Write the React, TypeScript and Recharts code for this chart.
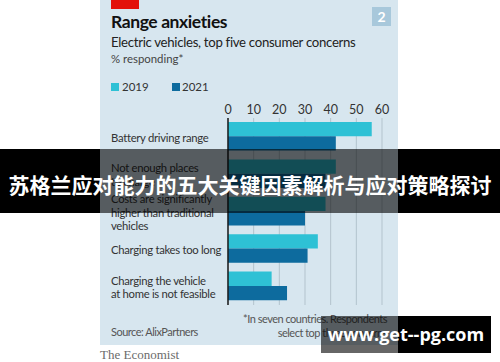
import React from 'react';
import { Bar, BarChart, CartesianGrid, XAxis, YAxis } from 'recharts';

const categories = [
  'Battery driving range',
  'Not enough places\nto charge',
  'Costs are significantly\nhigher than traditional\nvehicles',
  'Charging takes too long',
  'Charging the vehicle\nat home is not feasible',
];
const values2019 = [56, 42, 38, 35, 17];
const values2021 = [42, 38, 30, 31, 23];
const xTicks = [0, 10, 20, 30, 40, 50, 60];

const C2019 = '#2ec1d5';
const C2021 = '#0d6b9e';
const PANEL = '#d7e6ef';
const FONT = 'Lato, sans-serif';

const data = categories.map((c, i) => ({ name: c, y2019: values2019[i], y2021: values2021[i] }));

function CatTick(props: any) {
  const { y, payload } = props;
  const lines = String(payload.value).split('\n');
  const lh = 13.5;
  const start = y - ((lines.length - 1) * lh) / 2;
  return (
    <text x={111} y={start} fill="#333" fontSize={11.3} letterSpacing={-0.3} fontFamily={FONT} textAnchor="start" dominantBaseline="central">
      {lines.map((l, i) => (
        <tspan key={i} x={111} y={start + i * lh}>
          {l}
        </tspan>
      ))}
    </text>
  );
}

const abs = (l: number, t: number, w: number, h: number, extra: React.CSSProperties = {}): React.CSSProperties => ({
  position: 'absolute',
  left: l,
  top: t,
  width: w,
  height: h,
  ...extra,
});

export default function App() {
  return (
    <div style={{ position: 'absolute', left: 0, top: 0, width: 500, height: 362, background: '#fff', overflow: 'hidden', fontFamily: FONT }}>
      <div style={abs(100, 0, 298, 345, { background: PANEL })} />
      <div style={abs(111, 0, 28, 9, { background: '#e3120b' })} />
      <div style={abs(372, 7, 19, 19, { background: '#a8c8db', color: '#fff', fontWeight: 700, fontSize: 14, textAlign: 'center', lineHeight: '19px' })}>2</div>
      <div style={{ position: 'absolute', left: 111, top: 11, fontSize: 17.5, letterSpacing: -0.4, fontWeight: 700, color: '#111', whiteSpace: 'nowrap' }}>Range anxieties</div>
      <div style={{ position: 'absolute', left: 111, top: 34, fontSize: 13.2, letterSpacing: -0.3, color: '#222', whiteSpace: 'nowrap' }}>Electric vehicles, top five consumer concerns</div>
      <div style={{ position: 'absolute', left: 111, top: 52, fontSize: 11.4, color: '#444', whiteSpace: 'nowrap' }}>% responding*</div>
      <div style={abs(111, 83, 8, 8, { background: C2019 })} />
      <div style={{ position: 'absolute', left: 122, top: 80, fontSize: 11.5, color: '#333' }}>2019</div>
      <div style={abs(172, 83, 8, 8, { background: C2021 })} />
      <div style={{ position: 'absolute', left: 182, top: 80, fontSize: 11.5, color: '#333' }}>2021</div>

      <div style={{ position: 'absolute', left: 0, top: 0 }}>
        <BarChart
          width={500}
          height={362}
          data={data}
          layout="vertical"
          margin={{ top: 98, right: 118, bottom: 57, left: 110 }}
          barSize={14.3}
          barGap={0}
        >
          <CartesianGrid horizontal={false} stroke="#b3c3cd" strokeWidth={1} />
          <XAxis
            type="number"
            orientation="top"
            domain={[0, 60]}
            ticks={xTicks}
            axisLine={false}
            tickLine={false}
            tickSize={0}
            tickMargin={4}
            height={20}
            tick={{ fill: '#333', fontSize: 12.5, fontFamily: FONT }}
          />
          <YAxis
            type="category"
            dataKey="name"
            width={118}
            axisLine={{ stroke: '#1a1a1a', strokeWidth: 1.5 }}
            tickLine={false}
            tick={<CatTick />}
            interval={0}
          />
          <Bar dataKey="y2019" fill={C2019} isAnimationActive={false} />
          <Bar dataKey="y2021" fill={C2021} isAnimationActive={false} />
        </BarChart>
      </div>

      <div style={{ position: 'absolute', left: 111, top: 325, fontSize: 11, letterSpacing: -0.5, color: '#555', whiteSpace: 'nowrap' }}>Source: AlixPartners</div>
      <div style={{ position: 'absolute', right: 113, top: 312, fontSize: 11, letterSpacing: -0.5, color: '#555', textAlign: 'right', lineHeight: '13.5px', whiteSpace: 'nowrap' }}>
        *In seven countries. Respondents
        <br />
        select top three concerns
      </div>
      <div style={{ position: 'absolute', left: 100, top: 348, height: 14, lineHeight: '14px', fontSize: 13, color: '#6b6b6b', fontFamily: '"Liberation Serif", serif', whiteSpace: 'nowrap' }}>The Economist</div>

      {/* overlay band */}
      <div style={abs(0, 149, 100, 64, { background: '#000' })} />
      <div style={abs(100, 149, 298, 64, { background: 'rgba(0,0,0,0.6)' })} />
      <div style={abs(398, 149, 102, 64, { background: '#000' })} />
      <div style={{ position: 'absolute', left: 0, top: 149, width: 500, height: 64, lineHeight: '70px', textAlign: 'center', color: '#fff', fontSize: 21, fontWeight: 700, fontFamily: '"Noto Sans CJK SC", sans-serif', whiteSpace: 'nowrap' }}>
        苏格兰应对能力的五大关键因素解析与应对策略探讨
      </div>

      {/* watermark */}
      <div style={abs(321, 316, 77, 37, { background: 'rgba(0,0,0,0.6)' })} />
      <div style={abs(398, 316, 93, 37, { background: '#000' })} />
      <div style={{ position: 'absolute', left: 321, top: 316, width: 170, height: 37, lineHeight: '37px', textAlign: 'center', color: '#fff', fontSize: 18, fontWeight: 700, fontFamily: '"Open Sans", sans-serif', whiteSpace: 'nowrap' }}>
        www.get--pg.com
      </div>
    </div>
  );
}
